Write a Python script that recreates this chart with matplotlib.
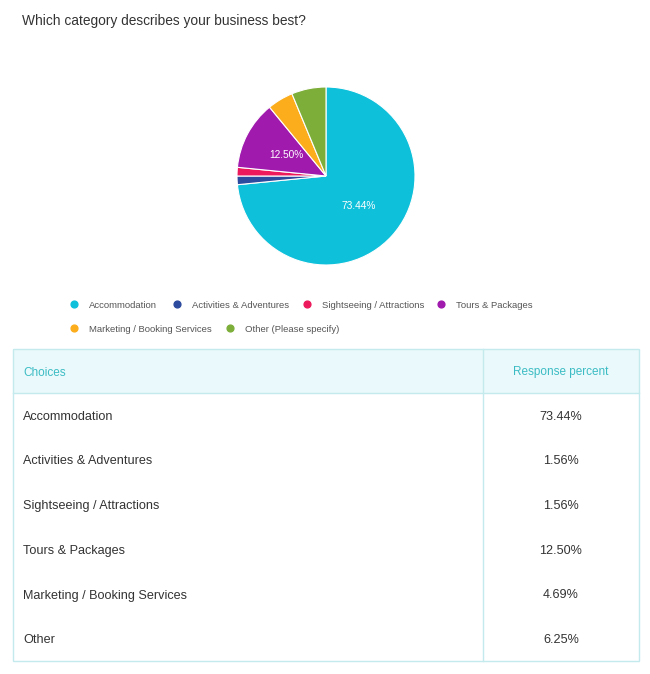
import matplotlib
matplotlib.use("Agg")
import matplotlib.pyplot as plt
from matplotlib.patches import Rectangle

plt.rcParams["font.family"] = ["Liberation Sans", "DejaVu Sans"]

# ---------- data ----------
TITLE = "Which category describes your business best?"
legend_labels = ["Accommodation", "Activities & Adventures", "Sightseeing / Attractions",
                 "Tours & Packages", "Marketing / Booking Services", "Other (Please specify)"]
table_labels = ["Accommodation", "Activities & Adventures", "Sightseeing / Attractions",
                "Tours & Packages", "Marketing / Booking Services", "Other"]
percents = [73.44, 1.56, 1.56, 12.50, 4.69, 6.25]
colors = ["#0fc0da", "#2c4a9e", "#ec1a5c", "#a01aae", "#fbad1c", "#7dae3a"]

W, H = 650, 674
fig = plt.figure(figsize=(W / 100, H / 100), dpi=100)
fig.patch.set_facecolor("#ffffff")

# overlay axes in pixel coords
ov = fig.add_axes([0, 0, 1, 1])
ov.set_xlim(0, W)
ov.set_ylim(H, 0)
ov.axis("off")

ov.text(22, 21, TITLE, fontsize=9.9, color="#333333", va="center", ha="left")

# ---------- pie ----------
cx, cy, r = 326, 176, 89
pax = fig.add_axes([(cx - r) / W, (H - cy - r) / H, 2 * r / W, 2 * r / H])
pax.pie(percents, colors=colors, startangle=90, counterclock=False,
        wedgeprops=dict(edgecolor="#ffffff", linewidth=0.8),
        autopct=lambda p: f"{p:.2f}%" if p > 10 else "", pctdistance=0.5,
        textprops=dict(color="#ffffff", fontsize=7.3))
pax.set_xlim(-1, 1)
pax.set_ylim(-1, 1)
pax.set_aspect("equal")
pax.axis("off")

# ---------- legend ----------
leg_pos = [(74, 304), (177, 304), (307, 304), (441, 304), (74, 328), (230, 328)]
for (lx, ly), lab, col in zip(leg_pos, legend_labels, colors):
    ov.scatter([lx], [ly], s=24, color=col, zorder=3)
    ov.text(lx + 15, ly + 1, lab, fontsize=6.8, color="#555555", va="center", ha="left")

# ---------- table ----------
border = "#c4eaee"
x0, x1, xdiv = 13, 639, 483
y0, yh, y1 = 349, 393, 661
ov.add_patch(Rectangle((x0, y0), x1 - x0, yh - y0, facecolor="#eaf9fb", edgecolor="none"))
ov.add_patch(Rectangle((x0, y0), x1 - x0, y1 - y0, facecolor="none", edgecolor=border, linewidth=1))
ov.plot([x0, x1], [yh, yh], color=border, linewidth=1)
ov.plot([xdiv, xdiv], [y0, y1], color=border, linewidth=1)

head_col = "#3bbcc4"
ov.text(23, (y0 + yh) / 2 + 1.5, "Choices", fontsize=8.5, color=head_col, va="center", ha="left")
ov.text((xdiv + x1) / 2, (y0 + yh) / 2 + 1.5, "Response percent", fontsize=8.5, color=head_col,
        va="center", ha="center")

row_h = (y1 - yh) / len(table_labels)
for i, (lab, p) in enumerate(zip(table_labels, percents)):
    yy = yh + row_h * (i + 0.5) + 1.5
    ov.text(23, yy, lab, fontsize=9.1, color="#333333", va="center", ha="left")
    ov.text((xdiv + x1) / 2, yy, f"{p:.2f}%", fontsize=9.1, color="#333333",
            va="center", ha="center")

fig.savefig("out.png", dpi=100, facecolor=fig.get_facecolor())
